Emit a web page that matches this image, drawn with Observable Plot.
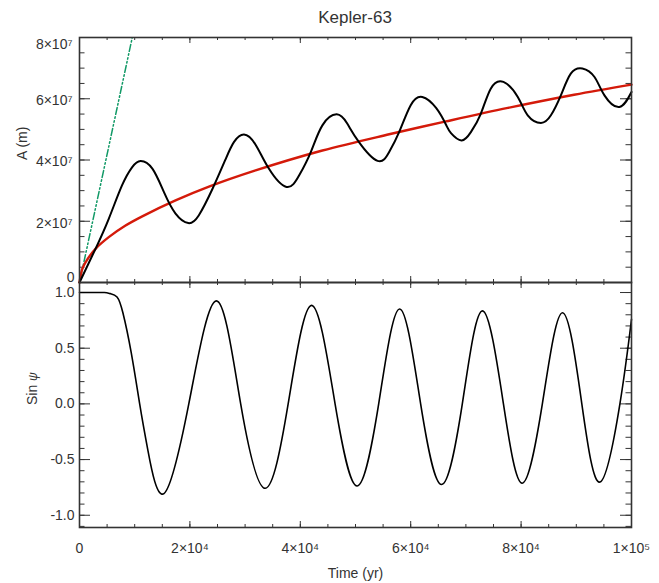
<!DOCTYPE html>
<html>
<head>
<meta charset="utf-8">
<script src="https://cdn.jsdelivr.net/npm/d3@7"></script>
<script src="https://cdn.jsdelivr.net/npm/@observablehq/plot@0.6"></script>
<style>
  body { margin: 0; background: #fff; }
  #wrap { position: relative; width: 659px; height: 583px; font-family: "Liberation Sans", Arial, sans-serif; color: #333; }
  #title { position: absolute; left: 79px; width: 552px; top: 7px; text-align: center; font-size: 17px; line-height: 22px; color: #333; }
  #top { position: absolute; left: 0; top: 0; }
  #bot { position: absolute; left: 0; top: 282px; }
</style>
</head>
<body>
<div id="wrap">
  <div id="title">Kepler-63</div>
  <div id="top"></div>
  <div id="bot"></div>
</div>
<script>
// ---- Data ----
// Time axis (yr)
const timeTicks = [0, 20000, 40000, 60000, 80000, 100000];
const timeTickLabels = ["0", "2×10⁴", "4×10⁴", "6×10⁴", "8×10⁴", "1×10⁵"];

// Top panel: A (m)
const aTicks = [0, 2e7, 4e7, 6e7, 8e7];
const aTickLabels = ["0", "2×10⁷", "4×10⁷", "6×10⁷", "8×10⁷"];

// Black oscillating curve
const blackT = [0, 2900, 5300, 7700, 9550, 11060, 13200, 15300, 17400, 19700, 21600, 24100, 26500, 28000, 29800,
  31900, 34300, 37500, 39800, 41900, 44000, 46600, 48500, 50600, 54000, 56100, 57900, 60000, 62100, 64600, 66400,
  67300, 69200, 70900, 72700, 74500, 76800, 79400, 81200, 83600, 85400, 87200, 89000, 91100, 93300, 95100, 97800, 100000];
const blackA = [0, 1.10e7, 2.08e7, 3.17e7, 3.77e7, 3.97e7, 3.72e7, 2.95e7, 2.25e7, 1.94e7, 2.19e7, 3.06e7, 4.04e7, 4.59e7, 4.83e7,
  4.50e7, 3.72e7, 3.12e7, 3.50e7, 4.26e7, 5.13e7, 5.49e7, 5.19e7, 4.59e7, 3.97e7, 4.26e7, 4.91e7, 5.79e7, 6.06e7, 5.70e7, 5.15e7,
  4.88e7, 4.64e7, 4.91e7, 5.51e7, 6.33e7, 6.55e7, 6.06e7, 5.46e7, 5.21e7, 5.46e7, 6.11e7, 6.82e7, 6.99e7, 6.71e7, 6.11e7, 5.73e7, 6.22e7];

// Red trend curve
const redT = [0, 490, 1090, 2900, 5300, 8340, 11370, 17400, 23450, 31900, 44000, 56100, 66400, 77600, 89600, 100000];
const redA = [0, 0.44e7, 0.66e7, 1.10e7, 1.48e7, 1.86e7, 2.16e7, 2.68e7, 3.13e7, 3.66e7, 4.31e7, 4.84e7, 5.26e7, 5.70e7, 6.13e7, 6.46e7];

// Green dash-dot straight line
const greenT = [0, 10000];
const greenA = [0, 8.37e7];

// Bottom panel: Sin psi
const sinTicks = [-1, -0.5, 0, 0.5, 1];
const sinTickLabels = ["-1.0", "-0.5", "0.0", "0.5", "1.0"];
const sinT = [0, 2500, 4500, 5600, 6800, 7850, 9370, 10900, 12400, 15300, 19800, 24800, 29200, 33650, 37800,
  42050, 46300, 50300, 54200, 58000, 61800, 65600, 69350, 73000, 76800, 80200, 83850, 87500, 91000, 94300, 97900, 100000];
const sinV = [1.0, 1.0, 1.0, 0.99, 0.96, 0.82, 0.46, 0.0, -0.42, -0.805, 0.0, 0.925, 0.0, -0.758, 0.0,
  0.885, 0.0, -0.737, 0.0, 0.852, 0.0, -0.724, 0.0, 0.835, 0.0, -0.712, 0.0, 0.818, 0.0, -0.702, 0.0, 0.76];

// ---- Build tables ----
const black = blackT.map((t, i) => ({t, a: blackA[i]}));
const red = redT.map((t, i) => ({t, a: redA[i]}));
const green = greenT.map((t, i) => ({t, a: greenA[i]}));
const sinData = sinT.map((t, i) => ({t, v: sinV[i]}));

const xMinor = d3.range(0, 100001, 5000);
const aMinor = d3.range(0, 8e7 + 1, 5e6);
const sinMinor = d3.range(-11, 11).map(k => k / 10);

const W = 659, ML = 79, MR = 28;
const PW = W - ML - MR;   // plot width
const PH = 245;           // plot height of each panel
const FONT = '"Liberation Sans", Arial, sans-serif';
const INK = "#333";

function edgeTicks(xMaj, xMin, yMaj, yMin, xLen, xLenMin, yLen, yLenMin) {
  const s = {stroke: INK, strokeWidth: 1};
  return [
    Plot.tickX(xMaj, {x: d => d, insetTop: PH - xLen, ...s}),
    Plot.tickX(xMaj, {x: d => d, insetBottom: PH - xLen, ...s}),
    Plot.tickX(xMin, {x: d => d, insetTop: PH - xLenMin, ...s}),
    Plot.tickX(xMin, {x: d => d, insetBottom: PH - xLenMin, ...s}),
    Plot.tickY(yMaj, {y: d => d, insetRight: PW - yLen, ...s}),
    Plot.tickY(yMaj, {y: d => d, insetLeft: PW - yLen, ...s}),
    Plot.tickY(yMin, {y: d => d, insetRight: PW - yLenMin, ...s}),
    Plot.tickY(yMin, {y: d => d, insetLeft: PW - yLenMin, ...s})
  ];
}

const fmtA = d => aTickLabels[aTicks.indexOf(d)];
const fmtT = d => timeTickLabels[timeTicks.indexOf(d)];
const fmtS = d => sinTickLabels[sinTicks.findIndex(v => Math.abs(v - d) < 1e-9)];

const topPlot = Plot.plot({
  width: W, height: 282,
  marginTop: 37, marginBottom: 0, marginLeft: ML, marginRight: MR,
  style: {fontFamily: FONT, fontSize: "14px", color: INK, background: "transparent", overflow: "visible"},
  x: {domain: [0, 100000], axis: null, label: null},
  y: {domain: [0, 8e7], axis: null, label: null},
  marks: [
    ...edgeTicks(timeTicks, xMinor, aTicks, aMinor, 6, 3, 11, 5.5),
    Plot.axisY({ticks: [8e7], tickSize: 0, tickPadding: 7, tickFormat: fmtA, dy: 7, label: null}),
    Plot.axisY({ticks: [2e7, 4e7, 6e7], tickSize: 0, tickPadding: 7, tickFormat: fmtA, dy: 2, label: null}),
    Plot.axisY({ticks: [0], tickSize: 0, tickPadding: 5, tickFormat: fmtA, dy: -5, label: null}),
    Plot.line(green, {x: "t", y: "a", stroke: "#119966", strokeWidth: 1.5, strokeDasharray: "7,2.5,1.5,2.5,1.5,2.5,1.5,2.5", clip: true}),
    Plot.line(red, {x: "t", y: "a", stroke: "#d41a0a", strokeWidth: 2.4, curve: "catmull-rom"}),
    Plot.line(black, {x: "t", y: "a", stroke: "#000", strokeWidth: 2, curve: "natural"}),
    Plot.frame({stroke: INK, strokeWidth: 1.6}),
    Plot.text(["A (m)"], {frameAnchor: "left", dx: -57, rotate: -90, fontSize: 14, fill: INK})
  ]
});
document.getElementById("top").append(topPlot);

const botPlot = Plot.plot({
  width: W, height: 301,
  marginTop: 0, marginBottom: 56, marginLeft: ML, marginRight: MR,
  style: {fontFamily: FONT, fontSize: "14px", color: INK, background: "transparent", overflow: "visible"},
  x: {domain: [0, 100000], axis: null, label: null},
  y: {domain: [-1.11, 1.09], axis: null, label: null},
  marks: [
    ...edgeTicks(timeTicks, xMinor, sinTicks, sinMinor, 6, 3, 11, 5.5),
    Plot.axisY({ticks: sinTicks, tickSize: 0, tickPadding: 5, tickFormat: fmtS, label: null}),
    Plot.axisX({ticks: timeTicks, tickSize: 0, tickPadding: 16, tickFormat: fmtT, label: null}),
    Plot.line(sinData, {x: "t", y: "v", stroke: "#000", strokeWidth: 1.6, curve: "natural"}),
    Plot.frame({stroke: INK, strokeWidth: 1.6}),
    Plot.text(["Sin ψ"], {frameAnchor: "left", dx: -47, rotate: -90, fontSize: 14, fill: INK, className: "psi-label"}),
    Plot.text(["Time (yr)"], {frameAnchor: "bottom", dy: 50, fontSize: 14, fill: INK})
  ]
});
document.getElementById("bot").append(botPlot);

// italic, slightly smaller psi as in the reference
botPlot.querySelectorAll("text").forEach(t => {
  if (t.textContent === "Sin ψ") {
    t.textContent = "Sin ";
    const ts = document.createElementNS("http://www.w3.org/2000/svg", "tspan");
    ts.setAttribute("font-style", "italic");
    ts.setAttribute("font-size", "12");
    ts.textContent = "ψ";
    t.appendChild(ts);
  }
});
</script>
</body>
</html>
